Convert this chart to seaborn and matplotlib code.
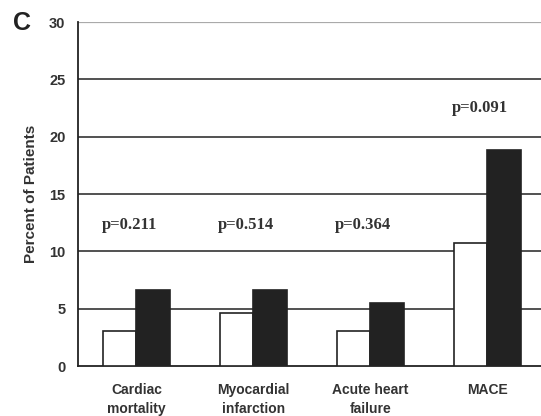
import seaborn as sns
import matplotlib.pyplot as plt
import pandas as pd

# 데이터
categories = ['Cardiac\nmortality', 'Myocardial\ninfarction', 'Acute heart\nfailure', 'MACE']
group_white = [3.1, 4.6, 3.1, 10.7]
group_black = [6.6, 6.6, 5.5, 18.8]
p_labels = ['p=0.211', 'p=0.514', 'p=0.364', 'p=0.091']
p_heights = [12.3, 12.3, 12.3, 22.5]

df = pd.DataFrame({
    'category': categories * 2,
    'group': ['A'] * 4 + ['B'] * 4,
    'percent': group_white + group_black,
})

sns.set_style('white')
plt.rcParams['font.family'] = ['Liberation Sans', 'DejaVu Sans']

fig = plt.figure(figsize=(5.41, 4.16), dpi=100)
ax = fig.add_axes([0.144, 0.12, 0.865, 0.827])

sns.barplot(data=df, x='category', y='percent', hue='group',
            palette=['white', '#222222'], width=0.57, edgecolor='#222222',
            linewidth=1.2, legend=False, ax=ax, zorder=3)

ax.set_ylim(0, 30)
ax.set_xlim(-0.5, 3.5)
ax.set_yticks([0, 5, 10, 15, 20, 25, 30])
for y in [5, 10, 15, 20, 25]:
    ax.axhline(y, color='#222222', lw=1.1, zorder=1)
ax.axhline(30, color='#aaaaaa', lw=1.6, zorder=1)

for s in ['top', 'right']:
    ax.spines[s].set_visible(False)
for s in ['left', 'bottom']:
    ax.spines[s].set_color('#222222')
    ax.spines[s].set_linewidth(1.3)

ax.tick_params(axis='y', length=5, width=1.2, color='#222222', labelsize=10.5, pad=4)
ax.tick_params(axis='x', length=0, labelsize=10, pad=12)
ax.set_xticks([0.5, 1.5, 2.5], minor=True)
ax.tick_params(axis='x', which='minor', length=4, width=1.2, color='#222222')
for lab in ax.get_yticklabels():
    lab.set_fontweight('bold')
    lab.set_color('#333333')
for lab in ax.get_xticklabels():
    lab.set_fontweight('bold')
    lab.set_color('#333333')
    lab.set_linespacing(1.45)

ax.set_xlabel('')
ax.set_ylabel('Percent of Patients', fontsize=11, fontweight='bold', color='#333333', labelpad=8)

for i, (lab, h) in enumerate(zip(p_labels, p_heights)):
    ax.text(i - 0.06, h, lab, ha='center', va='center', fontsize=12,
            fontweight='bold', family=['Liberation Serif'], color='#333333')

fig.text(0.024, 0.945, 'C', fontsize=18, fontweight='bold', color='#222222', va='center')

fig.savefig('out.png', dpi=100)
